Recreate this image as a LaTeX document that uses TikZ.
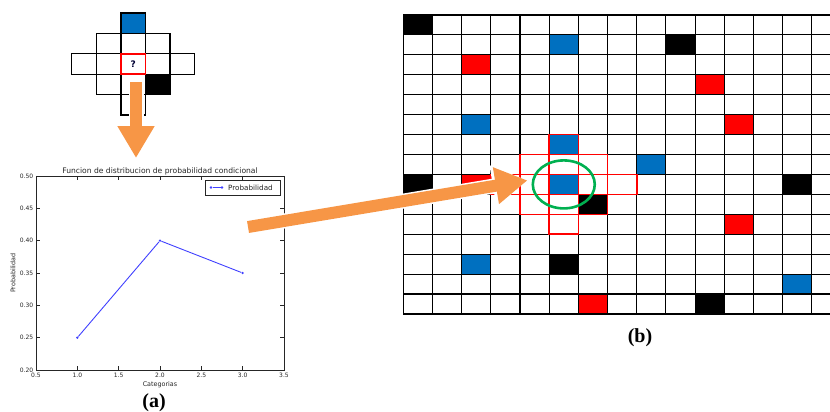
\documentclass[tikz,border=0pt]{standalone}
\usepackage{fontspec}
\setmainfont{Liberation Serif}
\setsansfont{DejaVu Sans}
\usepackage{xcolor}
\usepackage{tikz}
\usetikzlibrary{shapes.geometric, arrows.meta, positioning, calc}
\definecolor{cellblue}{HTML}{0070C0}
\definecolor{cellred}{HTML}{FF0000}
\definecolor{ringgreen}{HTML}{00B050}
\definecolor{arroworange}{HTML}{F79646}
\definecolor{plotblue}{HTML}{4040FF}
\tikzstyle{cell} = [draw=black, line width=1.3pt]
\tikzstyle{hood} = [draw=cellred, line width=1.6pt]
\tikzstyle{query} = [rectangle, draw=cellred, line width=1.6pt, minimum width=24.6pt, minimum height=20.4pt, inner sep=0pt, font=\sffamily\bfseries\fontsize{9}{10}\selectfont, text=black!80!blue]
\tikzstyle{ring} = [ellipse, draw=ringgreen, line width=2.6pt, minimum width=62pt, minimum height=48pt, inner sep=0pt]
\tikzstyle{fatglow} = [line width=15pt, white, -{Triangle[length=35pt,width=40pt]}]
\tikzstyle{fatarrow} = [line width=12pt, arroworange, -{Triangle[length=32pt,width=35pt]}]
\tikzstyle{axisline} = [draw=black!85, line width=0.5pt]
\tikzstyle{ticklabel} = [font=\sffamily\fontsize{6}{7}\selectfont, text=black!85, inner sep=1pt]
\tikzstyle{axislabel} = [font=\sffamily\fontsize{6.4}{7}\selectfont, text=black!85, inner sep=0pt]
\tikzstyle{dot} = [circle, fill=plotblue, minimum size=2.6pt, inner sep=0pt]
\tikzstyle{plotline} = [draw=plotblue, line width=0.9pt]
\tikzstyle{caption} = [font=\bfseries\fontsize{20}{22}\selectfont, inner sep=0pt]

\begin{document}
\begin{tikzpicture}[x=1pt, y=-1pt]
    \clip (0,0) rectangle (830,412);

    % small neighbourhood pattern
    \begin{scope}[shift={(71.7,13)}, x=24.6pt, y=-20.4pt]
        \fill[cellblue] (2,0) rectangle (3,1);
        \fill[black] (3,3) rectangle (4,4);
        \foreach \c/\r in {2/0, 1/1, 2/1, 3/1, 0/2, 1/2, 3/2, 4/2, 1/3, 2/3, 3/3, 2/4}
            \draw[cell] (\c,\r) rectangle ++(1,1);
        \node[query] (q) at (2.5,2.5) {?};
    \end{scope}

    % conditional probability plot
    \node[axislabel, font=\sffamily\fontsize{7.6}{8}\selectfont] (title) at (160,171) {Funcion de distribucion de probabilidad condicional};
    \begin{scope}[shift={(36,370)}, x=82.667pt, y=646.67pt, shift={(-0.5,-0.2)}]
        \draw[axisline] (0.5,0.2) rectangle (3.5,0.5);
        \foreach \t [count=\i] in {0.5,1.0,1.5,2.0,2.5,3.0,3.5} {
            \draw[axisline] (\t,0.2) -- ++(0,4pt);
            \draw[axisline] (\t,0.5) -- ++(0,-4pt);
            \node[ticklabel, below=1.5pt] (xt\i) at (\t,0.2) {\t};
        }
        \foreach \t [count=\i] in {0.20,0.25,0.30,0.35,0.40,0.45,0.50} {
            \draw[axisline] (0.5,\t) -- ++(4pt,0);
            \draw[axisline] (3.5,\t) -- ++(-4pt,0);
            \node[ticklabel, left=1.5pt] (yt\i) at (0.5,\t) {\t};
        }
        \node[dot] (p1) at (1,0.25) {};
        \node[dot] (p2) at (2,0.40) {};
        \node[dot] (p3) at (3,0.35) {};
        \draw[plotline] (p1) -- (p2) -- (p3);
    \end{scope}
    \node[axislabel] (xlabel) at (160,385) {Categorias};
    \node[axislabel, rotate=90] (ylabel) at (13,273) {Probabilidad};

    \node[draw=black!85, line width=0.6pt, fill=white, minimum width=75pt, minimum height=15pt, inner sep=0pt] (legend) at (242.5,187.5) {};
    \node[dot] (l1) at (211,187.5) {};
    \node[dot] (l2) at (222,187.5) {};
    \draw[plotline] (l1) -- (l2);
    \node[axislabel, font=\sffamily\fontsize{7.2}{8}\selectfont, anchor=west] (legtext) at (228,187.5) {Probabilidad};

    % lattice
    \begin{scope}[shift={(403.3,15)}, x=29.18pt, y=-19.93pt]
        \foreach \c/\r in {0/0, 9/1, 0/8, 13/8, 6/9, 5/12, 10/14}
            \fill[black] (\c,\r) rectangle ++(1,1);
        \foreach \c/\r in {5/1, 2/5, 5/6, 8/7, 5/8, 2/12, 13/13}
            \fill[cellblue] (\c,\r) rectangle ++(1,1);
        \foreach \c/\r in {2/2, 10/3, 11/5, 2/8, 11/10, 6/14}
            \fill[cellred] (\c,\r) rectangle ++(1,1);
        \foreach \k in {0,...,15} {
            \draw[line width=1.1pt] (\k,0) -- (\k,15);
            \draw[line width=1.1pt] (0,\k) -- (15,\k);
        }
        \foreach \c/\r in {5/6, 4/7, 5/7, 6/7, 3/8, 4/8, 5/8, 6/8, 7/8, 4/9, 5/9, 6/9, 5/10}
            \draw[hood] (\c,\r) rectangle ++(1,1);
        \node[ring] (ring) at (5.5,8.5) {};
    \end{scope}

    \coordinate (qtail) at (136,82);
    \coordinate (qtip) at (136,158);
    \coordinate (ptail) at (248,227);
    \coordinate (hit) at ([shift={(-4pt,4pt)}]ring.west);

    \draw[fatglow] (qtail) -- (qtip);
    \draw[fatarrow] (qtail) -- (qtip);
    \draw[fatglow] (ptail) -- (hit);
    \draw[fatarrow] (ptail) -- (hit);

    \node[caption] (capa) at (154,403) {(a)};
    \node[caption] (capb) at (640,338) {(b)};
\end{tikzpicture}
\end{document}
